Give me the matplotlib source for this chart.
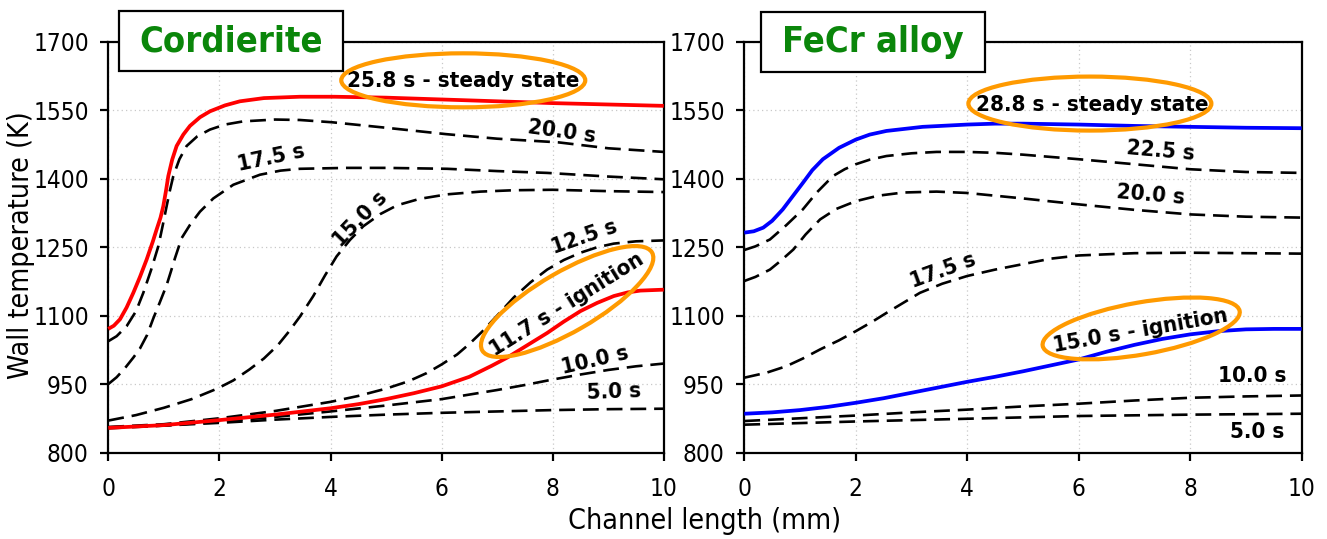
import matplotlib
matplotlib.use("Agg")
import matplotlib.pyplot as plt
import matplotlib.transforms as mtransforms
from matplotlib.patches import Ellipse, Rectangle
from matplotlib import font_manager as fm

# ---------------- data ----------------
# Cordierite panel
cord_258_x = [0, 0.1, 0.21, 0.33, 0.45, 0.57, 0.69, 0.8, 0.87, 0.94, 0.99, 1.04, 1.08, 1.15, 1.23, 1.35,
              1.47, 1.65, 1.83, 2.1, 2.37, 2.8, 3.45, 4.07, 5, 6, 7, 8, 9, 10]
cord_258_y = [1071, 1078, 1092, 1118, 1150, 1185, 1223, 1262, 1289, 1315, 1340, 1375, 1406, 1442, 1472, 1497,
              1516, 1535, 1548, 1561, 1570, 1577, 1580, 1580, 1578, 1574, 1570, 1566, 1563, 1560]

cord_200_x = [0, 0.15, 0.33, 0.5, 0.63, 0.77, 0.9, 0.98, 1.05, 1.11, 1.17, 1.28, 1.41, 1.6, 1.83, 2.1,
              2.43, 3.0, 3.45, 4.03, 5, 6.08, 7, 8.1, 9, 10]
cord_200_y = [1044, 1055, 1077, 1110, 1150, 1200, 1252, 1298, 1340, 1375, 1406, 1443, 1472, 1493, 1508, 1519,
              1526, 1530, 1529, 1524, 1512, 1498, 1488, 1480, 1467, 1459]

cord_175_x = [0, 0.15, 0.3, 0.45, 0.57, 0.7, 0.81, 0.93, 1.05, 1.13, 1.2, 1.32, 1.47, 1.65, 1.89, 2.25,
              2.73, 3.1, 3.45, 4.29, 5, 6.1, 7, 7.9, 9, 10]
cord_175_y = [950, 965, 985, 1008, 1028, 1058, 1094, 1130, 1167, 1198, 1226, 1270, 1299, 1328, 1357, 1387,
              1409, 1418, 1422, 1424, 1424, 1422, 1417, 1413, 1405, 1399]

cord_150_x = [0, 0.5, 1.0, 1.5, 1.96, 2.25, 2.54, 2.8, 3.05, 3.25, 3.45, 3.69, 3.9, 4.11, 4.35, 4.59,
              4.9, 5.2, 5.6, 6.1, 6.7, 7.3, 8, 9, 10]
cord_150_y = [870, 882, 898, 917, 940, 958, 982, 1006, 1035, 1065, 1098, 1143, 1188, 1230, 1266, 1296,
              1323, 1342, 1356, 1366, 1372, 1375, 1376, 1373, 1371]

cord_125_x = [0, 1, 2, 3, 4, 4.5, 5, 5.4, 5.73, 6.0, 6.28, 6.5, 6.73, 7.0, 7.3, 7.6, 7.9, 8.2, 8.5,
              8.8, 9.1, 9.5, 10]
cord_125_y = [856, 862, 875, 891, 911, 924, 940, 956, 974, 993, 1015, 1038, 1065, 1100, 1140, 1173, 1201,
              1222, 1238, 1250, 1258, 1263, 1265]

cord_117_x = [0, 1, 2, 3, 4, 4.5, 5, 5.5, 6, 6.5, 6.9, 7.18, 7.5, 7.9, 8.2, 8.5, 8.8, 9.1, 9.35, 9.58, 10]
cord_117_y = [854, 860, 871, 883, 897, 906, 917, 930, 945, 966, 990, 1008, 1032, 1062, 1087, 1110, 1128,
              1143, 1151, 1155, 1157]

cord_100_x = [0, 1, 2, 3, 4, 5, 6, 7, 7.5, 8, 8.5, 9, 9.5, 10]
cord_100_y = [855, 859, 868, 878, 890, 903, 917, 937, 948, 960, 971, 981, 989, 995]

cord_050_x = [0, 1, 2, 3, 4, 5, 6, 7, 8, 9, 10]
cord_050_y = [853, 859, 865, 872, 878, 883, 887, 890, 893, 895, 896]

# FeCr alloy panel
fecr_288_x = [0, 0.17, 0.34, 0.5, 0.69, 0.87, 1.05, 1.22, 1.41, 1.7, 2, 2.25, 2.55, 3.2, 4, 4.5, 5,
              6, 7, 8, 9, 10]
fecr_288_y = [1282, 1285, 1293, 1308, 1333, 1362, 1391, 1419, 1443, 1468, 1486, 1497, 1505, 1514, 1519,
              1521, 1521, 1519, 1516, 1514, 1512, 1511]

fecr_225_x = [0, 0.2, 0.46, 0.75, 1.05, 1.3, 1.59, 1.8, 2, 2.25, 2.55, 3, 3.45, 4, 4.5, 5, 6, 7, 8, 9, 10]
fecr_225_y = [1244, 1252, 1267, 1298, 1333, 1370, 1406, 1421, 1432, 1442, 1450, 1456, 1459, 1459, 1457,
              1453, 1443, 1432, 1421, 1415, 1413]

fecr_200_x = [0, 0.2, 0.46, 0.65, 0.88, 1.1, 1.36, 1.65, 2, 2.4, 2.85, 3.45, 4, 4.5, 5, 6, 7, 8, 9, 10]
fecr_200_y = [1176, 1185, 1201, 1220, 1245, 1278, 1311, 1334, 1351, 1363, 1370, 1372, 1369, 1363, 1357,
              1344, 1332, 1322, 1317, 1315]

fecr_175_x = [0, 0.4, 0.75, 1.05, 1.36, 1.7, 2, 2.3, 2.55, 2.85, 3.15, 3.55, 4, 4.5, 5, 5.5, 6, 7, 8, 9, 10]
fecr_175_y = [964, 975, 989, 1006, 1026, 1046, 1066, 1087, 1106, 1128, 1150, 1170, 1187, 1201, 1213,
              1225, 1232, 1237, 1238, 1237, 1236]

fecr_150_x = [0, 0.5, 1, 1.5, 2, 2.5, 3, 3.5, 4, 4.5, 5, 5.5, 6, 6.5, 7, 7.5, 8, 8.5, 9, 9.5, 10]
fecr_150_y = [885, 888, 893, 900, 909, 919, 931, 943, 955, 966, 978, 991, 1004, 1021, 1036, 1049, 1059,
              1066, 1070, 1071, 1071]

fecr_100_x = [0, 1, 2, 3, 4, 5, 6, 7, 8, 9, 10]
fecr_100_y = [869, 875, 881, 888, 894, 901, 907, 914, 920, 923, 925]

fecr_050_x = [0, 2, 4, 6, 8, 10]
fecr_050_y = [861, 868, 874, 880, 883, 885]

x_ticks = [0, 2, 4, 6, 8, 10]
y_ticks = [800, 950, 1100, 1250, 1400, 1550, 1700]
panel_titles = ["Cordierite", "FeCr alloy"]
x_label = "Channel length (mm)"
y_label = "Wall temperature (K)"

# ---------------- fonts ----------------
def _condensed_available():
    try:
        p = fm.findfont(fm.FontProperties(family="DejaVu Sans", stretch="condensed"),
                        fallback_to_default=False)
        return "Condensed" in p
    except Exception:
        return False

COND = _condensed_available()
if COND:
    STRETCH = "condensed"
    TICK_FS, LAB_FS, ANN_FS, TITLE_FS = 17.5, 20.5, 16, 26
else:
    STRETCH = "normal"
    TICK_FS, LAB_FS, ANN_FS, TITLE_FS = 15, 17.5, 14, 23

plt.rcParams["font.family"] = ["DejaVu Sans"]

W, H = 1327, 539
fig = plt.figure(figsize=(W / 100, H / 100), dpi=100)

def px_axes(x0, x1, y0, y1):
    return [x0 / W, 1 - y1 / H, (x1 - x0) / W, (y1 - y0) / H]

ax1 = fig.add_axes(px_axes(108.3, 663.8, 42, 452.5))
ax2 = fig.add_axes(px_axes(744.3, 1301.7, 42, 452.5))

ORANGE = "#FF9A00"
DASH = (0, (6.0, 3.0))

def style(ax):
    ax.set_xlim(0, 10)
    ax.set_ylim(800, 1700)
    ax.set_xticks(x_ticks)
    ax.set_yticks(y_ticks)
    ax.grid(True, color="#c8c8c8", linestyle=(0, (1, 2.5)), linewidth=0.9)
    ax.set_axisbelow(True)
    for s in ax.spines.values():
        s.set_linewidth(1.6)
        s.set_color("black")
    ax.tick_params(axis="both", direction="out", length=5.5, width=1.6, color="black")
    ax.tick_params(axis="x", pad=12.5)
    ax.tick_params(axis="y", pad=8.5)
    for lab in ax.get_xticklabels() + ax.get_yticklabels():
        lab.set_fontsize(TICK_FS)
        lab.set_fontstretch(STRETCH)

style(ax1)
style(ax2)

def dashed(ax, x, y):
    ax.plot(x, y, color="black", linestyle=DASH, linewidth=1.9, dash_capstyle="butt",
            solid_joinstyle="round", dash_joinstyle="round", clip_on=False, zorder=3)

def solid(ax, x, y, c):
    ax.plot(x, y, color=c, linewidth=2.7, solid_capstyle="butt", solid_joinstyle="round",
            clip_on=False, zorder=4)

for xx, yy in [(cord_200_x, cord_200_y), (cord_175_x, cord_175_y), (cord_150_x, cord_150_y),
               (cord_125_x, cord_125_y), (cord_100_x, cord_100_y), (cord_050_x, cord_050_y)]:
    dashed(ax1, xx, yy)
solid(ax1, cord_258_x, cord_258_y, "#FF0000")
solid(ax1, cord_117_x, cord_117_y, "#FF0000")

for xx, yy in [(fecr_225_x, fecr_225_y), (fecr_200_x, fecr_200_y), (fecr_175_x, fecr_175_y),
               (fecr_100_x, fecr_100_y), (fecr_050_x, fecr_050_y)]:
    dashed(ax2, xx, yy)
solid(ax2, fecr_288_x, fecr_288_y, "#0000FF")
solid(ax2, fecr_150_x, fecr_150_y, "#0000FF")

def label(ax, x, y, s, rot=0):
    ax.text(x, y, s, fontsize=ANN_FS, fontweight="bold", fontstretch=STRETCH,
            rotation=rot, rotation_mode="anchor", ha="center", va="center", zorder=6)

def ellipse(ax, x, y, w_px, h_px, ang):
    tr = fig.dpi_scale_trans + mtransforms.ScaledTranslation(x, y, ax.transData)
    e = Ellipse((0, 0), w_px / 100, h_px / 100, angle=ang, transform=tr,
                fill=False, edgecolor=ORANGE, linewidth=3.0, zorder=7, clip_on=False)
    fig.add_artist(e)

# left panel annotations
label(ax1, 6.39, 1614, "25.8 s - steady state")
ellipse(ax1, 6.39, 1616, 244, 54, 0)
label(ax1, 8.17, 1504, "20.0 s", -8)
label(ax1, 2.94, 1445, "17.5 s", 12)
label(ax1, 4.53, 1311, "15.0 s", 46)
label(ax1, 8.57, 1271, "12.5 s", 19)
label(ax1, 8.25, 1124, "11.7 s - ignition", 32)
ellipse(ax1, 8.26, 1131, 196, 60, 30)
label(ax1, 8.77, 1002, "10.0 s", 13)
label(ax1, 9.1, 932, "5.0 s", 2)

# right panel annotations
label(ax2, 6.24, 1561, "28.8 s - steady state")
ellipse(ax2, 6.2, 1565, 243, 54, 0)
label(ax2, 7.46, 1460, "22.5 s", -5)
label(ax2, 7.29, 1364, "20.0 s", -5)
label(ax2, 3.56, 1199, "17.5 s", 20)
label(ax2, 7.1, 1067, "15.0 s - ignition", 10)
ellipse(ax2, 7.12, 1072, 200, 52, 10)
label(ax2, 9.12, 967, "10.0 s", 0)
label(ax2, 9.21, 844, "5.0 s", 0)

# title boxes
def title_box(x0, x1, y0, y1, s):
    r = Rectangle((x0 / W, 1 - y1 / H), (x1 - x0) / W, (y1 - y0) / H, transform=fig.transFigure,
                  facecolor="white", edgecolor="black", linewidth=1.6, zorder=8)
    fig.add_artist(r)
    fig.text((x0 + x1) / 2 / W, 1 - (y0 + y1) / 2 / H, s, ha="center", va="center",
             fontsize=TITLE_FS, fontweight="bold", color="#0A860A", fontstretch=STRETCH, zorder=9)

title_box(119, 343, 11, 71, panel_titles[0])
title_box(761, 985, 12, 72, panel_titles[1])

fig.text(705 / W, 1 - 521 / H, x_label, ha="center", va="center", fontsize=LAB_FS, fontstretch=STRETCH)
fig.text(21 / W, 1 - 245 / H, y_label, ha="center", va="center", rotation=90,
         fontsize=LAB_FS, fontstretch=STRETCH)

fig.savefig("out.png", dpi=100, facecolor="white")
